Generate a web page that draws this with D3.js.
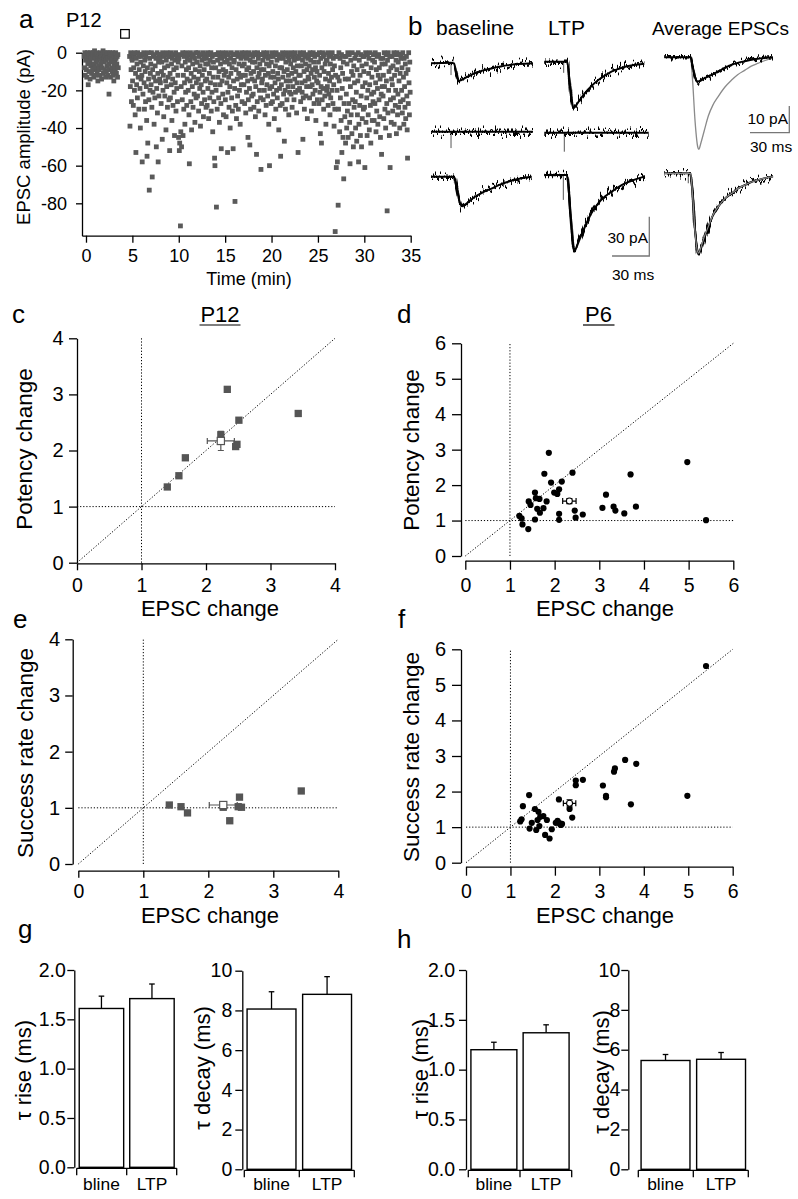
<!DOCTYPE html>
<html><head><meta charset="utf-8">
<script src="https://cdn.jsdelivr.net/npm/d3@7"></script>
<style>
body{margin:0;background:#fff}
svg{display:block}
text{font-family:"Liberation Sans",Arial,Helvetica,sans-serif;fill:#000}
</style></head>
<body><svg id="fig" width="798" height="1199"></svg>
<script>
// ================= DATA =================
// Panel a: EPSC amplitude per sweep (pA)
const sweepInterval = 0.04; // min between sweeps
const baselineStart = -0.2;
const baselineAmps = [
-2,-8,0,-12,-4,-1,-9,-13,-3,0,-6,-17,-2,-10,-1,-5,-14,0,-7,-3,-11,-1,-6,-9,0,
-2,-13,-6,1,-3,-8,-12,-1,-5,0,-10,-4,-15,-2,-7,-1,-9,-3,-12,0,-6,-2,-14,-4,-8,
-1,1,-11,-5,-3,-9,0,-2,-13,-4,-10,-1,-7,0,-12,-3,-6,-22,-9,0,-2,-13,-5,-1,-8,
-4,-10,0,-12,-2,-15,-7,-1,-5,-9,0,-3,-11,-6,-2,-13,-1,-8];
const ltpStart = 4.7;
const ltpAmps = [
-2,-39,-18,0,-9,-26,-3,
-4,-15,-1,-28,-8,-2,-20,0,-33,-11,-53,-3,-17,-6,-24,0,-13,-2,-30,-9,-1,-19,-40,-5,-14,
-2,-12,-58,-1,-22,-7,0,-16,-30,-4,-10,-26,-2,-18,-36,-55,-8,-48,0,-14,-25,-73,-3,-20,-11,
-6,-17,0,-29,-66,-9,-21,-2,-13,-38,-1,-24,-7,-15,-3,-50,-19,0,-32,-11,-58,-5,-23,-1,-14,
-3,-16,-1,-27,-10,-5,-46,0,-20,-12,-34,-2,-8,-23,-1,-15,-41,-4,-18,0,-29,-7,-13,-2,-25,
-2,-52,-11,-24,0,-17,-6,-36,-3,-14,-28,-1,-9,-21,-44,-4,-16,0,-31,-8,-19,-2,-26,-12,-5,
-45,-3,-52,-48,-1,-92,-42,-18,-50,-7,-25,0,-44,-12,-30,-2,-16,-38,-5,-21,0,-9,-28,-14,-3,
-1,-20,-8,-33,-59,-4,-15,0,-26,-11,-41,-2,-18,-6,-29,-1,-13,-22,-3,-37,-9,0,-24,-16,-5,
-5,-23,0,-14,-31,-2,-10,-19,-7,-39,-1,-17,-27,-4,-12,0,-21,-34,-3,-9,-25,-1,-15,-6,-29,
-3,-14,-28,0,-19,-6,-35,-1,-11,-24,-4,-16,0,-31,-8,-21,-2,-42,-13,-5,-26,-1,-56,-60,-17,
-8,-20,-82,-1,-30,-4,-13,0,-24,-10,-37,-2,-17,-6,-27,-51,-3,-15,0,-22,-9,-33,-1,-12,-5,
-2,-25,-10,-34,0,-16,-4,-53,-21,-1,-13,-29,-6,-18,-40,-3,-11,0,-24,-8,-31,-1,-51,-15,-5,
-4,-19,-79,-1,-28,-9,-35,0,-14,-23,-2,-30,-11,-6,-20,-1,-38,-13,-3,-17,0,-26,-7,-12,-2,
-1,-17,-6,-27,0,-12,-32,-3,-21,-9,-2,-15,-45,-25,-8,0,-19,-49,-4,-30,-11,-1,-23,-14,-5,
-2,-22,-10,-29,0,-15,-5,-34,-18,-1,-54,-8,-26,0,-13,-3,-31,-11,-20,-6,-1,-24,-62,-9,-16,
-1,-14,-4,-25,0,-9,-20,-2,-33,-12,-1,-28,-6,-17,0,-23,-3,-11,-38,-7,-60,-19,-2,-13,-27,
-5,-18,0,-26,-10,-2,-22,-13,-35,-1,-16,-7,-30,0,-20,-4,-24,-11,-1,-14,-41,-3,-19,-8,-28,
-55,-2,-17,-8,-27,0,-13,-3,-22,-10,-47,-1,-20,-30,-5,-15,0,-25,-9,-2,-18,-12,-33,-4,-21,
-1,-15,-6,-22,0,-11,-29,-2,-18,-8,-1,-25,-4,-14,0,-21,-10,-3,-32,-16,-7,-20,-53,-2,-12,
-3,-19,0,-12,-26,-1,-7,-16,-21,-4,-46,-24,0,-10,-30,-2,-15,-6,-23,-1,-18,-9,-35,-3,-13,
-2,-14,-7,-24,0,-18,-4,-11,-31,-1,-17,-9,-22,0,-5,-27,-13,-2,-20,-8,-36,-1,-15,-10,-25,
-1,-16,-5,-27,0,-12,-21,-43,-3,-18,-48,-8,-25,0,-19,-2,-30,-10,-1,-23,-6,-14,-38,-4,-20,
-4,-18,0,-28,-11,-22,-2,-15,-33,-6,-24,-1,-13,-20,0,-9,-27,-3,-17,-39,-7,-30,-95,-12,-2,
-61,-2,-20,-58,-13,-81,-30,0,-15,-42,-3,-24,-8,-36,-1,-53,-19,-11,-45,-5,-67,-27,-2,-34,-14,
-48,-2,-22,-40,-6,-31,0,-45,-14,-27,-1,-37,-59,-18,-4,-33,-10,-43,0,-25,-12,-50,-7,-29,-16,
-3,-26,-40,-1,-21,-47,-9,-33,-15,0,-58,-38,-4,-28,-12,-44,-1,-23,-50,-7,-35,-18,-2,-30,-10,
-2,-29,-61,-16,0,-37,-6,-24,-44,-1,-20,-33,-11,-3,-41,-17,0,-28,-48,-8,-22,-13,-36,-4,-26,
-1,-21,-36,-5,-27,0,-16,-42,-9,-31,-2,-19,-38,-12,-1,-25,-8,-34,-14,-45,-3,-22,-54,-6,-18,
-3,-23,-12,-35,0,-18,-30,-6,-40,-1,-15,-27,-84,-4,-32,0,-20,-10,-44,-2,-61,-25,-8,-37,-14,
-2,-17,-31,-7,-24,0,-38,-12,-1,-28,-20,-4,-43,-9,0,-33,-22,-5,-29,-15,-1,-40,-11,-26,-3,
-1,-20,-8,-32,0,-25,-13,-38,-3,-18,-29,-6,-35,-11,-2,-23,-41,-56,-9,-27,0,-16,-33,-5,-21];
const pairingMarker = [4.2, 10];
const aXTicks = [0,5,10,15,20,25,30,35];
const aYTicks = [0,-20,-40,-60,-80];

// Panel b: traces [ms, pA]
const traceBaseline1 = [[0,0],[16,0.5],[18.5,0],[20,-6],[22,-13.5],[24,-13],[27,-11.5],[31,-9.5],[35,-7.6],[40,-6],[45,-4.8],[50,-3.6],[56,-2.4],[62,-1.4],[70,-0.6],[82,0]];
const traceLtp1 = [[0,0],[15.6,0],[18.5,0],[20,-12],[22,-30],[23.5,-35.5],[25,-34],[28,-30],[32.7,-24],[38,-18.5],[43.5,-14],[49,-10.5],[54,-7.6],[60,-5.4],[65,-3.8],[72,-2.5],[80.5,-1.5]];
const traceBaselineFail = [[0,0],[82,0]];
const traceLtpFail = [[0,0],[84,0]];
const traceBaseline3 = [[0,0],[18.5,0],[20.5,-8],[23,-19],[25,-22.5],[27,-21.5],[30,-19.5],[35,-15.5],[42,-11.8],[49,-8.9],[55,-6.2],[62,-3.8],[69,-2],[76,-0.6],[81,0]];
const traceLtp3 = [[0,0],[18.3,0],[19.5,-10],[21.5,-35],[23,-53],[24.1,-58.5],[25.5,-56],[28,-50],[32.7,-39.5],[38,-29],[43.4,-21.6],[49,-16.3],[54.2,-12.7],[60,-9],[65,-6.4],[72,-3.8],[78.4,-1.8],[81,-1.2]];
const avgBaseline1 = [[0,0],[20,0],[21.5,-3],[23.5,-7.5],[25.5,-9.1],[27,-8.8],[30,-8],[33.6,-7.2],[41,-5.4],[46,-4],[51,-2.9],[56,-2.1],[62,-1.4],[70,-0.6],[83,0]];
const avgLtp1 = [[0,0],[20,0],[21.5,-8],[23.5,-24],[25.5,-33.5],[26.3,-34.5],[28,-32],[30.5,-27.5],[33.6,-22],[37,-18],[41,-14.8],[46,-11.3],[51.4,-8.5],[56,-6.5],[61.6,-4.8],[66,-3.4],[71.8,-2.2],[77,-1.2],[83,-0.3]];
const avgBaseline3 = [[0,0],[20,0],[21.5,-14],[23.5,-44],[25.5,-60],[26.3,-62],[27.5,-59],[30,-51],[33.6,-41],[37,-32.5],[41.2,-25.5],[46,-19.5],[51.5,-15.3],[56,-11.8],[61.6,-8.9],[66,-6.8],[71.8,-5.1],[77,-3.7],[83,-2.5]];
const avgLtp3 = [[0,0],[20,0],[21.5,-15],[23.5,-45],[25.5,-60],[26.3,-61],[27.5,-58],[30,-50],[33.6,-40.7],[37,-32],[41.2,-25.4],[46,-19.5],[51.5,-15.3],[56,-11.8],[61.6,-8.9],[66,-6.8],[71.8,-5.1],[77,-3.7],[83,-2.5]];
// stimulus artifacts: [column, row, ms, depth pA]
const artifacts = [["base",1,16.1,9],["ltp",1,15.6,8.5],["base",2,16.1,12.5],["ltp",2,16.1,14.5],["ltp",3,15.3,19],["avg",3,18.3,7.6]];

// Panels c, e: P12
const p12Ticks = [0,1,2,3,4];
const p12Epsc = [1.40,1.58,1.68,2.33,2.51,2.23,2.46,2.48,3.43];
const p12Potency = [1.35,1.55,1.87,3.09,2.54,2.28,2.07,2.11,2.66];
const p12Success = [1.05,1.02,0.91,0.77,1.01,1.01,1.02,1.19,1.30];
const p12MeanPot = [2.23,2.17,0.21,0.17];   // x, y, xErr, yErr
const p12MeanSucc = [2.23,1.05,0.215,0.05];

// Panels d, f: P6
const p6Ticks = [0,1,2,3,4,5,6];
const p6PotEpsc = [1.87,1.77,2.40,1.92,2.16,2.10,1.99,2.06,1.56,1.42,1.46,1.58,1.66,1.82,1.75,1.61,1.67,1.56,1.21,1.26,1.28,1.41,2.10,2.10,2.45,2.47,2.63,3.07,3.15,3.32,3.36,3.56,3.82,3.70,4.97,5.39];
const p6Potency = [2.91,2.32,2.35,2.07,2.10,1.88,1.79,1.75,1.79,1.54,1.44,1.63,1.61,1.54,1.35,1.33,1.22,1.03,1.13,1.06,0.89,0.76,1.19,1.02,1.28,1.08,1.17,1.36,1.73,1.39,1.28,1.20,1.39,2.30,2.65,1.01];
const p6SuccEpsc = [5.40,4.98,3.71,3.83,3.58,3.35,3.33,3.08,3.15,3.15,2.63,2.47,2.47,2.39,2.33,2.09,1.42,1.28,1.25,1.22,1.55,1.63,1.67,1.74,1.82,1.61,1.48,1.43,1.58,1.65,1.78,1.88,1.93,2.02,2.06,2.10,2.13,2.16];
const p6Success = [5.53,1.88,1.64,2.78,2.89,2.65,2.56,2.17,1.88,1.84,2.33,2.31,2.18,1.27,1.51,1.78,1.90,1.59,1.22,1.16,1.51,1.43,1.29,1.31,1.20,1.20,1.12,0.96,0.92,1.03,0.78,0.68,0.94,1.12,1.18,1.11,1.06,1.09];
const p6MeanPot = [2.33,1.55,0.15,0.07];
const p6MeanSucc = [2.33,1.67,0.14,0.10];

// Panels g, h: kinetics
const conditions = ["bline","LTP"];
const riseTicks = [0,0.5,1,1.5,2];
const decayTicks = [0,2,4,6,8,10];
const p12Rise = [1.61,1.71], p12RiseErr = [0.125,0.148];
const p12Decay = [8.07,8.81], p12DecayErr = [0.87,0.89];
const p6Rise = [1.20,1.37], p6RiseErr = [0.075,0.08];
const p6Decay = [5.46,5.52], p6DecayErr = [0.30,0.34];

// ================= DRAWING =================
const svg = d3.select("#fig");
const FONT = '"Liberation Sans", Arial, Helvetica, sans-serif';

function text(x,y,s,size,opt={}){
  const t = svg.append("text").attr("x",x).attr("y",y).attr("font-size",size).text(s);
  if(opt.anchor) t.attr("text-anchor",opt.anchor);
  if(opt.rot){ t.attr("transform",`rotate(-90,${x},${y})`); }
  if(opt.fill) t.style("fill",opt.fill);
  return t;
}
function styleAxis(g,size){
  g.attr("font-family",FONT).attr("font-size",size);
  g.selectAll("path.domain").attr("stroke","#000").attr("stroke-width",1.3);
  g.selectAll(".tick line").attr("stroke","#000").attr("stroke-width",1.3);
  g.selectAll(".tick text").attr("fill","#000");
}
const plain = d=>String(d);

// ---------- Panel a ----------
text(19,28,"a",26);
text(66,27,"P12",20);
const aX = d3.scaleLinear([-0.43,35],[82,410.7]);
const aY = d3.scaleLinear([-97.2,0],[235.7,52.7]);
styleAxis(svg.append("g").attr("transform","translate(0,235.7)")
  .call(d3.axisBottom(aX).tickValues(aXTicks).tickFormat(plain).tickSize(7).tickSizeOuter(0).tickPadding(7)),18);
styleAxis(svg.append("g").attr("transform","translate(82,0)")
  .call(d3.axisLeft(aY).tickValues(aYTicks).tickFormat(plain).tickSize(6).tickSizeOuter(0).tickPadding(9)),18);
const aPts = baselineAmps.map((v,i)=>[baselineStart+i*sweepInterval,v])
  .concat(ltpAmps.map((v,i)=>[ltpStart+i*sweepInterval,v]));
const sq = 4.8;
svg.append("g").selectAll("rect").data(aPts).join("rect")
  .attr("x",d=>aX(d[0])-sq/2).attr("y",d=>aY(d[1])-sq/2)
  .attr("width",sq).attr("height",sq).attr("fill","#5a5a5a");
svg.append("rect").attr("x",aX(pairingMarker[0])-4.3).attr("y",aY(pairingMarker[1])-4.3)
  .attr("width",8.6).attr("height",8.6).attr("fill","#fff").attr("stroke","#000").attr("stroke-width",1.2);
text(30,137,"EPSC amplitude (pA)",18.5,{anchor:"middle",rot:true});
text(249,285,"Time (min)",18,{anchor:"middle"});

// ---------- Panel b ----------
text(408,35,"b",26);
text(436,35,"baseline",21);
text(548,35,"LTP",21);
text(652,35,"Average EPSCs",19);
const defs = svg.append("defs");
function noiseFilter(id,scale,freq){
  const f = defs.append("filter").attr("id",id).attr("filterUnits","userSpaceOnUse")
    .attr("x",415).attr("y",35).attr("width",375).attr("height",240)
    .attr("color-interpolation-filters","sRGB");
  f.append("feTurbulence").attr("type","fractalNoise").attr("baseFrequency",freq)
    .attr("numOctaves",2).attr("seed",7).attr("result","t");
  f.append("feColorMatrix").attr("in","t").attr("type","matrix")
    .attr("values","0 0 0 0 0.5  0 1 0 0 0  0 0 1 0 0  0 0 0 0 1").attr("result","m");
  f.append("feDisplacementMap").attr("in","SourceGraphic").attr("in2","m")
    .attr("scale",scale).attr("xChannelSelector","R").attr("yChannelSelector","G");
}
noiseFilter("noise",22,"0.6 0.04");
noiseFilter("noiseSmall",11,"0.6 0.04");
const cols = {
  base:{x:d3.scaleLinear([0,82],[431,533]), rows:{1:63.3,2:131.7,3:176.7}, k:{1:1.31,2:1.31,3:1.31}},
  ltp:{x:d3.scaleLinear([0,82],[544.3,646.2]), rows:{1:61.7,2:132.7,3:175}, k:{1:1.31,2:1.31,3:1.31}},
  avg:{x:d3.scaleLinear([0,83],[664.3,773]), rows:{1:57.3,3:173.3}, k:{1:2.67,3:1.31}}
};
function yScale(col,row){ const c=cols[col]; const y0=c.rows[row], k=c.k[row];
  return d3.scaleLinear([0,-10],[y0,y0+10*k]); }
function trace(data,col,row,stroke,width,filter){
  const xs=cols[col].x, ys=yScale(col,row);
  const d = d3.line().x(d=>xs(d[0])).y(d=>ys(d[1])).curve(d3.curveMonotoneX)(data);
  const g = svg.append("g").datum(data);
  g.append("path").attr("d",d).attr("fill","none").attr("stroke",stroke)
    .attr("stroke-width",filter?2:width).attr("stroke-linejoin","round");
  if(filter){
    g.append("path").attr("d",d).attr("fill","none").attr("stroke",stroke)
      .attr("stroke-width",width).attr("stroke-linejoin","round").attr("filter",`url(#${filter})`);
  }
}
artifacts.forEach(a=>{
  const xs=cols[a[0]].x, ys=yScale(a[0],a[1]);
  svg.append("line").attr("x1",xs(a[2])).attr("x2",xs(a[2]))
    .attr("y1",ys(0)).attr("y2",ys(-a[3])).attr("stroke","#555").attr("stroke-width",1);
});
trace(traceBaseline1,"base",1,"#000",2.6,"noise");
trace(traceLtp1,"ltp",1,"#000",2.6,"noise");
trace(traceBaselineFail,"base",2,"#000",2.6,"noise");
trace(traceLtpFail,"ltp",2,"#000",2.6,"noise");
trace(traceBaseline3,"base",3,"#000",2.6,"noise");
trace(traceLtp3,"ltp",3,"#000",2.6,"noise");
trace(avgLtp1,"avg",1,"#8a8a8a",1.3,null);
trace(avgBaseline1,"avg",1,"#000",2.4,"noiseSmall");
trace(avgBaseline3,"avg",3,"#000",2.5,"noise");
trace(avgLtp3,"avg",3,"#8a8a8a",1.2,null);
// scale bars
function scaleBar(col,row,pA,ms,xRight,yBottom){
  const k=cols[col].k[row], xs=cols[col].x;
  const len = xs(ms)-xs(0);
  svg.append("path").attr("d",`M${xRight-len},${yBottom}H${xRight}V${yBottom-pA*k}`)
    .attr("fill","none").attr("stroke","#777").attr("stroke-width",1.3);
}
scaleBar("avg",1,10,30,789.3,132.7);
text(788,124,"10 pA",15.5,{anchor:"end"});
text(750,151.5,"30 ms",15.5);
scaleBar("ltp",3,30,30,649.3,256);
text(648,243,"30 pA",15.5,{anchor:"end"});
text(612,280,"30 ms",15.5);

// ---------- scatter panels ----------
function scatter(c){
  const xs=d3.scaleLinear([0,c.max],[c.x0,c.x1]);
  const ys=d3.scaleLinear([0,c.max],[c.y0,c.y1]);
  styleAxis(svg.append("g").attr("transform",`translate(0,${c.xAxisY})`)
    .call(d3.axisBottom(xs).tickValues(c.ticks).tickFormat(plain).tickSize(c.xt).tickSizeOuter(0).tickPadding(c.xp)),19.5);
  styleAxis(svg.append("g").attr("transform",`translate(${c.yAxisX},0)`)
    .call(d3.axisLeft(ys).tickValues(c.ticks).tickFormat(plain).tickSize(c.yt).tickSizeOuter(0).tickPadding(c.yp)),20);
  const dot = {stroke:"#000","stroke-width":1,"stroke-dasharray":"1.2,1.9",fill:"none"};
  const lines = [[1,0,1,c.max],[0,1,c.max,1],[0,0,c.max,c.max]];
  lines.forEach(l=>{
    const el=svg.append("line").attr("x1",xs(l[0])).attr("y1",ys(l[1])).attr("x2",xs(l[2])).attr("y2",ys(l[3]));
    Object.entries(dot).forEach(([k,v])=>el.attr(k,v));
  });
  const pts = c.xv.map((x,i)=>[x,c.yv[i]]);
  if(c.shape==="square"){
    const s=7.3;
    svg.append("g").selectAll("rect").data(pts).join("rect")
      .attr("x",d=>xs(d[0])-s/2).attr("y",d=>ys(d[1])-s/2).attr("width",s).attr("height",s)
      .attr("fill","#555");
  } else {
    svg.append("g").selectAll("circle").data(pts).join("circle")
      .attr("cx",d=>xs(d[0])).attr("cy",d=>ys(d[1])).attr("r",3.1).attr("fill","#000");
  }
  const m=c.mean, col=c.shape==="square"?"#555":"#000";
  const mx=xs(m[0]), my=ys(m[1]);
  const eb = svg.append("g").attr("stroke",col).attr("stroke-width",1.2).attr("fill","none");
  const xl=xs(m[0]-m[2]), xr=xs(m[0]+m[2]), yt=ys(m[1]+m[3]), yb=ys(m[1]-m[3]);
  eb.append("path").attr("d",`M${xl},${my}H${xr}M${xl},${my-3}V${my+3}M${xr},${my-3}V${my+3}M${mx},${yt}V${yb}M${mx-3},${yt}H${mx+3}M${mx-3},${yb}H${mx+3}`);
  if(c.shape==="square"){
    svg.append("rect").attr("x",mx-3.6).attr("y",my-3.6).attr("width",7.2).attr("height",7.2)
      .attr("fill","#fff").attr("stroke",col).attr("stroke-width",1.2);
  } else {
    svg.append("circle").attr("cx",mx).attr("cy",my).attr("r",3).attr("fill","#fff").attr("stroke",col).attr("stroke-width",1.1);
  }
  text(c.xtX,c.xtY,"EPSC change",22,{anchor:"middle"});
  text(c.ytX,c.ytY,c.ytitle,22.5,{anchor:"middle",rot:true});
}
scatter({max:4,ticks:p12Ticks,x0:77,x1:335,y0:562.7,y1:338.3,yAxisX:77,xAxisY:563.3,xt:7,xp:7.5,yt:8,yp:5.5,
  xv:p12Epsc,yv:p12Potency,mean:p12MeanPot,shape:"square",xtX:210,xtY:616,ytX:32,ytY:449,ytitle:"Potency change"});
scatter({max:6,ticks:p6Ticks,x0:465.3,x1:733.3,y0:556,y1:343.3,yAxisX:461,xAxisY:560.7,xt:9,xp:8,yt:9,yp:6,
  xv:p6PotEpsc,yv:p6Potency,mean:p6MeanPot,shape:"circle",xtX:605,xtY:616,ytX:419,ytY:450,ytitle:"Potency change"});
scatter({max:4,ticks:p12Ticks,x0:78.3,x1:338.3,y0:864,y1:639.3,yAxisX:72.7,xAxisY:870.7,xt:7,xp:6.5,yt:7.5,yp:5,
  xv:p12Epsc,yv:p12Success,mean:p12MeanSucc,shape:"square",xtX:210,xtY:923,ytX:33,ytY:753,ytitle:"Success rate change"});
scatter({max:6,ticks:p6Ticks,x0:466,x1:732.7,y0:862.7,y1:649.3,yAxisX:461,xAxisY:866.7,xt:9,xp:8,yt:9,yp:6,
  xv:p6SuccEpsc,yv:p6Success,mean:p6MeanSucc,shape:"circle",xtX:605,xtY:923,ytX:419,ytY:757,ytitle:"Success rate change"});
text(12,323,"c",26); text(397,323,"d",26); text(13,628,"e",26); text(398,628,"f",26);
text(220,321.7,"P12",22,{anchor:"middle"});
svg.append("line").attr("x1",199.5).attr("x2",240.5).attr("y1",325).attr("y2",325).attr("stroke","#000").attr("stroke-width",1.2);
text(598.5,321.7,"P6",22,{anchor:"middle"});
svg.append("line").attr("x1",583).attr("x2",614.5).attr("y1",325).attr("y2",325).attr("stroke","#000").attr("stroke-width",1.2);

// ---------- bar panels ----------
function bars(c){
  const ys=d3.scaleLinear([0,c.max],[c.y0,c.y1]);
  const xb=d3.scaleBand(conditions,[c.b0,c.b1]).paddingInner(0.12).paddingOuter(0.05);
  styleAxis(svg.append("g").attr("transform",`translate(${c.ax},0)`)
    .call(d3.axisLeft(ys).tickValues(c.ticks).tickFormat(c.fmt).tickSize(7).tickSizeOuter(0).tickPadding(c.pad)),19.5);
  const yb=c.y0+1;
  svg.append("path").attr("d",`M${c.b0},${yb}H${c.b1}M${c.b0},${yb}V${yb+7}M${(c.b0+c.b1)/2},${yb}V${yb+7}M${c.b1},${yb}V${yb+7}`)
    .attr("stroke","#000").attr("stroke-width",1.3).attr("fill","none");
  conditions.forEach((k,i)=>{
    const x=xb(k), w=xb.bandwidth(), cx=x+w/2;
    svg.append("line").attr("x1",cx).attr("x2",cx).attr("y1",ys(c.v[i])).attr("y2",ys(c.v[i]+c.e[i])).attr("stroke","#000").attr("stroke-width",1.3);
    svg.append("line").attr("x1",cx-2.8).attr("x2",cx+2.8).attr("y1",ys(c.v[i]+c.e[i])).attr("y2",ys(c.v[i]+c.e[i])).attr("stroke","#000").attr("stroke-width",1.3);
    svg.append("rect").attr("x",x).attr("y",ys(c.v[i])).attr("width",w).attr("height",ys(0)-ys(c.v[i]))
      .attr("fill","#fff").attr("stroke","#000").attr("stroke-width",1.4);
    text(cx,1190,k,17.4,{anchor:"middle"});
  });
  text(c.tx,c.ty,c.title,22,{anchor:"middle",rot:true});
}
const f1=d3.format(".1f");
bars({max:2,y0:1167.3,y1:970,ax:74.3,b0:76.7,b1:176.7,ticks:riseTicks,fmt:f1,pad:1.5,v:p12Rise,e:p12RiseErr,title:"τ rise (ms)",tx:31,ty:1070});
bars({max:10,y0:1169.3,y1:970.7,ax:242.3,b0:244.3,b1:354.3,ticks:decayTicks,fmt:plain,pad:3,v:p12Decay,e:p12DecayErr,title:"τ decay (ms)",tx:210,ty:1068});
bars({max:2,y0:1169.3,y1:970,ax:466,b0:468.3,b1:571.7,ticks:riseTicks,fmt:f1,pad:4,v:p6Rise,e:p6RiseErr,title:"τ rise (ms)",tx:428,ty:1069});
bars({max:10,y0:1169.3,y1:970,ax:628.3,b0:638.3,b1:748.3,ticks:decayTicks,fmt:plain,pad:1,v:p6Decay,e:p6DecayErr,title:"τ decay (ms)",tx:609,ty:1072});
text(18,938,"g",26); text(397,948,"h",26);
</script></body></html>
